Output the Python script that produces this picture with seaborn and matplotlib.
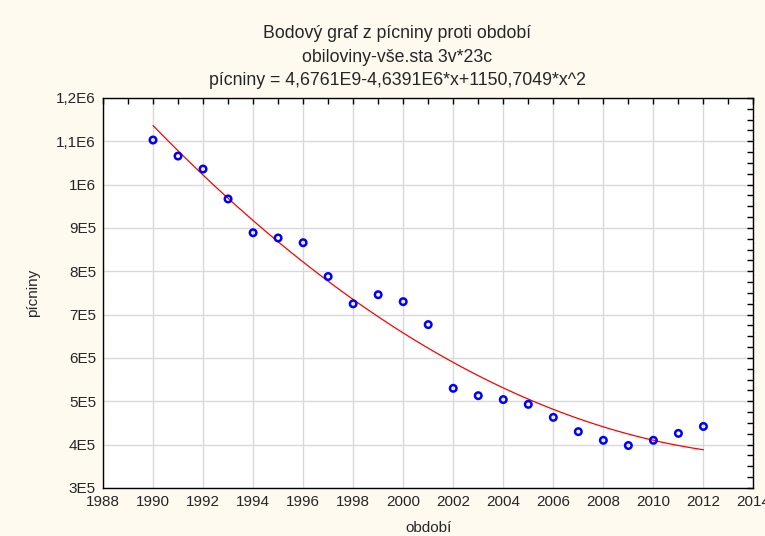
import matplotlib
matplotlib.use("Agg")
import matplotlib.pyplot as plt
from matplotlib.ticker import MultipleLocator, FixedLocator
import seaborn as sns
import pandas as pd

years = list(range(1990, 2013))
picniny = [1103000, 1066000, 1036000, 967000, 889000, 877000, 866000, 788000,
           725000, 746000, 730000, 677000, 530000, 513000, 504000, 493000,
           463000, 430000, 410000, 398000, 410000, 426000, 442000]

x_ticks = list(range(1988, 2015, 2))
y_ticks = [300000, 400000, 500000, 600000, 700000, 800000, 900000, 1000000, 1100000, 1200000]
y_tick_labels = ["3E5", "4E5", "5E5", "6E5", "7E5", "8E5", "9E5", "1E6", "1,1E6", "1,2E6"]

title_lines = ["Bodový graf z pícniny proti období",
               "obiloviny-vše.sta 3v*23c",
               "pícniny = 4,6761E9-4,6391E6*x+1150,7049*x^2"]

df = pd.DataFrame({"období": years, "pícniny": picniny})

sns.set_style("white")
plt.rcParams["font.family"] = ["Liberation Sans", "DejaVu Sans"]

fig = plt.figure(figsize=(7.65, 5.36), dpi=100, facecolor="#FFFAF0")
ax = fig.add_axes([0.1346, 0.0896, 0.8503, 0.7276])
ax.set_facecolor("white")

sns.regplot(data=df, x="období", y="pícniny", order=2, ci=None, ax=ax,
            scatter_kws=dict(facecolors="none", edgecolors="#0000FF", s=22,
                             linewidths=1.8, alpha=1, zorder=3),
            line_kws=dict(color="#FF0000", lw=0.9, zorder=2))

ax.set_xlim(1988, 2014)
ax.set_ylim(300000, 1200000)
ax.xaxis.set_major_locator(FixedLocator(x_ticks))
ax.xaxis.set_minor_locator(MultipleLocator(1))
ax.yaxis.set_major_locator(FixedLocator(y_ticks))
ax.set_yticklabels(y_tick_labels)
ax.yaxis.set_minor_locator(MultipleLocator(25000))
ax.set_xticklabels([str(t) for t in x_ticks])

ax.grid(True, which="major", color="#D9D9D9", lw=1)
ax.set_axisbelow(True)
ax.tick_params(which="both", direction="in", top=True, right=True,
               length=4, width=1, color="black", labelsize=11, pad=5)
for s in ax.spines.values():
    s.set_color("black")
    s.set_linewidth(1)

ax.set_xlabel("období", fontsize=11, labelpad=9)
ax.set_ylabel("pícniny", fontsize=11, labelpad=12)

for i, t in enumerate(title_lines):
    fig.text(397 / 765, 1 - (33.5 + i * 23.5) / 536, t, ha="center", va="center", fontsize=12.8)

fig.savefig("out.png", dpi=100, facecolor=fig.get_facecolor())
